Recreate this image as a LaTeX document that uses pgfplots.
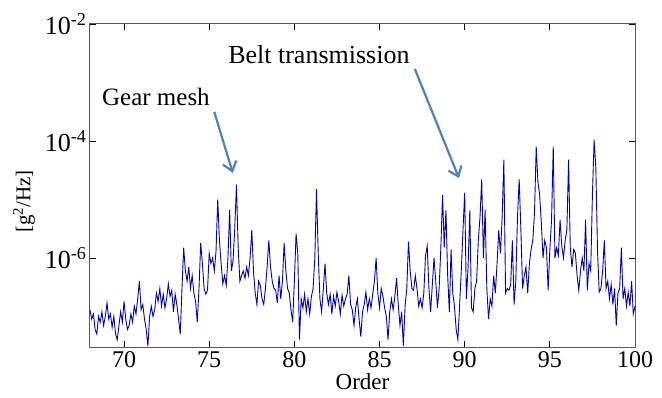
\documentclass[border=0pt]{standalone}
\usepackage{fontspec}
\setmainfont{Liberation Serif}
\usepackage{pgfplots}
\pgfplotsset{compat=1.18}
\usetikzlibrary{arrows.meta}
\definecolor{spec}{RGB}{0,0,185}
\definecolor{arrowblue}{RGB}{79,129,189}
\begin{document}
\begin{tikzpicture}
\begin{axis}[
  scale only axis, width=545pt, height=323pt,
  xmin=68, xmax=100, ymode=log, ymin=3e-8, ymax=1e-2,
  xtick={70,75,80,85,90,95,100},
  xticklabels={70,75,80,85,90,95,100},
  ytick={1e-6,1e-4,1e-2},
  yticklabels={10\textsuperscript{-6},10\textsuperscript{-4},10\textsuperscript{-2}},
  xminorticks=false, yminorticks=false,
  tick align=inside, major tick length=6pt,
  tick style={black, line width=0.8pt},
  axis line style={draw=black!65, line width=1pt},
  xticklabel style={font=\fontsize{24}{28}\selectfont, yshift=-1pt},
  yticklabel style={font=\fontsize{26}{30}\selectfont},
  xlabel={Order}, ylabel={[g\textsuperscript{2}/Hz]},
  xlabel style={font=\fontsize{23}{26}\selectfont, yshift=1pt},
  ylabel style={font=\fontsize{21}{25}\selectfont, yshift=3pt, xshift=-16pt},
  clip=true,
]
\addplot[spec, line width=0.9pt] coordinates {
(68.0,1.3e-7)(68.1,9e-8)(68.2,1.1e-7)(68.3,6e-8)(68.4,5e-8)(68.5,1.0e-7)(68.6,8e-8)(68.7,1.2e-7)(68.8,7e-8)(68.9,1.0e-7)
(69.0,1.7e-7)(69.1,9e-8)(69.2,1.1e-7)(69.3,6.5e-8)(69.4,1.0e-7)(69.5,5e-8)(69.6,4e-8)(69.7,7e-8)(69.8,1.2e-7)(69.9,8e-8)
(70.0,1.8e-7)(70.1,9e-8)(70.2,6e-8)(70.3,7e-8)(70.4,1.1e-7)(70.5,8e-8)(70.6,1.5e-7)(70.7,1.1e-7)(70.8,2.0e-7)(70.9,4.0e-7)
(71.0,1.3e-7)(71.1,1.6e-7)(71.2,9e-8)(71.3,6e-8)(71.4,3.1e-8)(71.5,1.0e-7)(71.6,1.5e-7)(71.7,1.0e-7)(71.8,1.3e-7)(71.9,2.5e-7)
(72.0,1.8e-7)(72.1,3.0e-7)(72.2,1.5e-7)(72.3,2.4e-7)(72.4,1.4e-7)(72.5,2.0e-7)(72.6,3.6e-7)(72.7,2.2e-7)(72.8,2.8e-7)(72.9,1.2e-7)
(73.0,2.4e-7)(73.1,1.6e-7)(73.2,9e-8)(73.3,5e-8)(73.4,3e-7)(73.5,1.5e-6)(73.6,6e-7)(73.7,4e-7)(73.8,7e-7)(73.9,3e-7)
(74.0,5e-7)(74.1,2.5e-7)(74.2,1.8e-7)(74.3,8e-8)(74.4,3e-7)(74.5,1.8e-6)(74.6,8e-7)(74.7,3e-7)(74.8,2.4e-7)(74.9,2.8e-7)
(75.0,1.2e-6)(75.1,8e-7)(75.2,1.0e-6)(75.3,6e-7)(75.4,1.3e-6)(75.5,1.0e-5)(75.6,2.0e-6)(75.7,8e-7)(75.8,3.6e-7)(75.9,5e-7)
(76.0,3.4e-7)(76.1,1.0e-6)(76.2,6.6e-6)(76.3,6e-7)(76.4,9e-7)(76.5,3.2e-6)(76.6,1.8e-5)(76.7,1.5e-6)(76.8,4e-7)(76.9,5e-7)
(77.0,6e-7)(77.1,4.5e-7)(77.2,7e-7)(77.3,5e-7)(77.4,1.0e-6)(77.5,3.0e-6)(77.6,6e-7)(77.7,2.5e-7)(77.8,1.6e-7)(77.9,4e-7)
(78.0,3.4e-7)(78.1,2.0e-7)(78.2,1.6e-7)(78.3,3e-7)(78.4,7e-7)(78.5,2.0e-6)(78.6,7e-7)(78.7,4e-7)(78.8,3e-7)(78.9,2.8e-7)
(79.0,1.7e-7)(79.1,5e-7)(79.2,2.0e-7)(79.3,4e-7)(79.4,1.8e-6)(79.5,6e-7)(79.6,3e-7)(79.7,2.5e-7)(79.8,1.3e-7)(79.9,8e-8)
(80.0,4e-7)(80.1,2.6e-6)(80.2,1.2e-6)(80.3,4e-8)(80.4,2.0e-7)(80.5,1.4e-7)(80.6,2.4e-7)(80.7,1.2e-7)(80.8,2.0e-7)(80.9,1.1e-7)
(81.0,2.2e-7)(81.1,3e-7)(81.2,1.0e-6)(81.3,1.5e-5)(81.4,1.2e-6)(81.5,2.0e-7)(81.6,1.2e-7)(81.7,3e-7)(81.8,8e-7)(81.9,2.5e-7)
(82.0,1.6e-7)(82.1,2.4e-7)(82.2,1.1e-7)(82.3,2.2e-7)(82.4,1.5e-7)(82.5,2.6e-7)(82.6,1.8e-7)(82.7,1.1e-7)(82.8,2.3e-7)(82.9,1.5e-7)
(83.0,2.0e-7)(83.1,2.4e-7)(83.2,5e-7)(83.3,1.6e-7)(83.4,1.3e-7)(83.5,7e-8)(83.6,1.4e-7)(83.7,2.0e-7)(83.8,9e-8)(83.9,4.5e-8)
(84.0,1.2e-7)(84.1,1.6e-7)(84.2,2.6e-7)(84.3,1.3e-7)(84.4,2.0e-7)(84.5,1.4e-7)(84.6,2.4e-7)(84.7,4e-7)(84.8,1.0e-6)(84.9,2.5e-7)
(85.0,1.4e-7)(85.1,3e-7)(85.2,2.2e-7)(85.3,1.4e-7)(85.4,1.0e-7)(85.5,4e-8)(85.6,1.2e-7)(85.7,2.0e-7)(85.8,1.3e-7)(85.9,2.2e-7)
(86.0,4.5e-7)(86.1,1.6e-7)(86.2,7e-8)(86.3,1.2e-7)(86.4,3.1e-8)(86.5,1.5e-7)(86.6,3e-7)(86.7,1.9e-6)(86.8,6e-7)(86.9,3e-7)
(87.0,2.8e-7)(87.1,5e-7)(87.2,3e-7)(87.3,1.5e-7)(87.4,2.0e-7)(87.5,1.4e-7)(87.6,2.5e-7)(87.7,1.1e-6)(87.8,1.6e-6)(87.9,3e-7)
(88.0,1.2e-7)(88.1,3.5e-7)(88.2,1.0e-6)(88.3,4e-7)(88.4,1.4e-7)(88.5,3e-7)(88.6,1.5e-6)(88.7,1.2e-5)(88.8,1.5e-6)(88.9,6.5e-6)
(89.0,5e-7)(89.1,1.2e-7)(89.2,1.4e-6)(89.3,2.5e-7)(89.4,1.5e-7)(89.5,6e-8)(89.6,4e-8)(89.7,1.5e-7)(89.8,6e-7)(89.9,3e-6)
(90.0,1.3e-5)(90.1,2.0e-7)(90.2,7e-7)(90.3,6.5e-6)(90.4,1.4e-7)(90.5,1.2e-7)(90.6,3e-7)(90.7,4e-7)(90.8,2.0e-6)(90.9,5e-6)
(91.0,2.2e-5)(91.1,1.0e-6)(91.2,6.6e-6)(91.3,3e-7)(91.4,9e-8)(91.5,2.0e-7)(91.6,1.5e-7)(91.7,5e-7)(91.8,2.5e-7)(91.9,8e-7)
(92.0,3e-6)(92.1,1.2e-6)(92.2,5e-6)(92.3,4.8e-5)(92.4,2.5e-7)(92.5,3e-7)(92.6,2.8e-7)(92.7,3.5e-7)(92.8,2.0e-6)(92.9,1.6e-7)
(93.0,4e-7)(93.1,5e-6)(93.2,2.2e-5)(93.3,3e-6)(93.4,3e-7)(93.5,5e-7)(93.6,7e-7)(93.7,2.5e-7)(93.8,8e-7)(93.9,1.4e-6)
(94.0,2.0e-6)(94.1,6e-6)(94.2,8e-5)(94.3,2.0e-5)(94.4,1.2e-5)(94.5,4e-6)(94.6,1.0e-6)(94.7,2.0e-6)(94.8,1.5e-6)(94.9,2.8e-7)
(95.0,1.4e-6)(95.1,4.5e-6)(95.2,8e-5)(95.3,1.0e-6)(95.4,1.5e-6)(95.5,1.1e-6)(95.6,4.5e-6)(95.7,1.6e-6)(95.8,1.0e-6)(95.9,2.0e-6)
(96.0,3e-6)(96.1,4.8e-5)(96.2,1.5e-6)(96.3,7e-7)(96.4,1.4e-6)(96.5,1.2e-6)(96.6,5e-7)(96.7,2.8e-7)(96.8,6e-7)(96.9,1.0e-6)
(97.0,6e-7)(97.1,4.5e-6)(97.2,2.8e-7)(97.3,8e-7)(97.4,6e-7)(97.5,1.2e-5)(97.6,1.05e-4)(97.7,3.5e-5)(97.8,1.3e-6)(97.9,2.6e-7)
(98.0,3e-7)(98.1,6e-7)(98.2,2.0e-6)(98.3,3e-7)(98.4,4e-7)(98.5,2.0e-7)(98.6,3.5e-7)(98.7,1.6e-7)(98.8,3e-7)(98.9,7e-8)
(99.0,2.5e-7)(99.1,3e-7)(99.2,1.5e-6)(99.3,2.0e-7)(99.4,3e-7)(99.5,1.5e-7)(99.6,2.6e-7)(99.7,1.5e-7)(99.8,4e-7)(99.9,1.1e-7)
(100.0,1.5e-7)
};
\node[font=\fontsize{25}{30}\selectfont] at (rel axis cs:0.121,0.774) {Gear mesh};
\node[font=\fontsize{26}{30}\selectfont] at (rel axis cs:0.420,0.904) {Belt transmission};
\draw[arrowblue, line width=2.2pt, -{Straight Barb[length=9pt,width=14pt]}] (rel axis cs:0.228,0.728) -- (rel axis cs:0.262,0.539);
\draw[arrowblue, line width=2.2pt, -{Straight Barb[length=9pt,width=14pt]}] (rel axis cs:0.596,0.861) -- (rel axis cs:0.677,0.523);
\end{axis}
\path (current axis.south west) ++(-90pt,-51pt) rectangle ++(662pt,398pt);
\end{tikzpicture}
\end{document}
